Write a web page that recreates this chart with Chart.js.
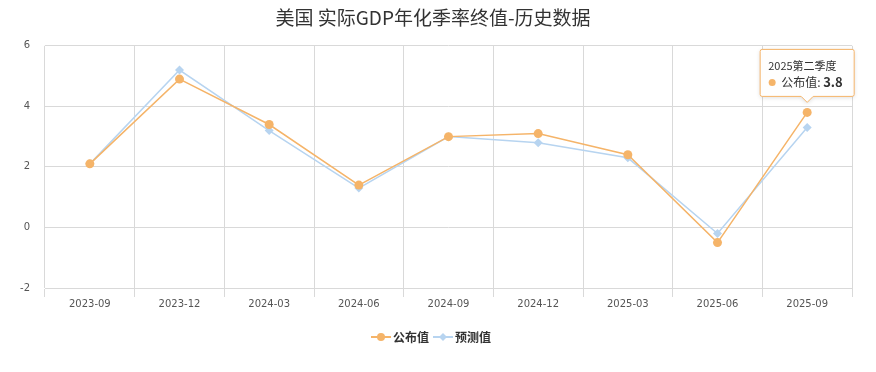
<!DOCTYPE html>
<html>
<head>
<meta charset="utf-8">
<script src="https://cdn.jsdelivr.net/npm/chart.js@4"></script>
<style>
  html, body { margin: 0; padding: 0; background: #fff; }
  #wrap { width: 876px; height: 372px; }
</style>
</head>
<body>
<div id="wrap"><canvas id="myChart" width="876" height="372"></canvas></div>
<script>
// data
var labels = ['2023-09', '2023-12', '2024-03', '2024-06', '2024-09', '2024-12', '2025-03', '2025-06', '2025-09'];
var actual = [2.1, 4.9, 3.4, 1.4, 3.0, 3.1, 2.4, -0.5, 3.8];
var forecast = [2.1, 5.2, 3.2, 1.3, 3.0, 2.8, 2.3, -0.2, 3.3];
var yTicks = [-2, 0, 2, 4, 6];
var tipTitle = '2025第二季度';

var orange = '#f5b469';
var blue = '#b7d4f0';
var fontFam = '"Noto Sans CJK SC", "Noto Sans", sans-serif';
var tickFam = '"DejaVu Sans", sans-serif';

// legend icon: short line with marker
function legendIcon(color, shape) {
    var c = document.createElement('canvas');
    c.width = 22; c.height = 12;
    var g = c.getContext('2d');
    g.strokeStyle = color;
    g.lineWidth = 2;
    g.beginPath(); g.moveTo(1, 6); g.lineTo(21, 6); g.stroke();
    g.fillStyle = color;
    g.beginPath();
    if (shape === 'circle') {
        g.arc(11, 6, 4, 0, Math.PI * 2);
    } else {
        g.moveTo(11, 2); g.lineTo(15, 6); g.lineTo(11, 10); g.lineTo(7, 6); g.closePath();
    }
    g.fill();
    return c;
}

// fixed tooltip on last point, drawn like the reference
var tipPlugin = {
    id: 'fixedTip',
    afterDraw: function (chart) {
        var ctx = chart.ctx;
        var idx = actual.length - 1;
        var pt = chart.getDatasetMeta(0).data[idx];
        var w = 94, h = 47;
        var x = pt.x - w / 2, y = pt.y - 16 - h;
        ctx.save();
        ctx.shadowColor = 'rgba(0,0,0,0.15)';
        ctx.shadowBlur = 4;
        ctx.shadowOffsetY = 1;
        ctx.fillStyle = 'rgba(255,255,255,0.96)';
        ctx.strokeStyle = orange;
        ctx.lineWidth = 1;
        ctx.beginPath();
        ctx.moveTo(x + 2, y);
        ctx.lineTo(x + w - 2, y);
        ctx.quadraticCurveTo(x + w, y, x + w, y + 2);
        ctx.lineTo(x + w, y + h - 2);
        ctx.quadraticCurveTo(x + w, y + h, x + w - 2, y + h);
        ctx.lineTo(pt.x + 6, y + h);
        ctx.lineTo(pt.x, y + h + 6);
        ctx.lineTo(pt.x - 6, y + h);
        ctx.lineTo(x + 2, y + h);
        ctx.quadraticCurveTo(x, y + h, x, y + h - 2);
        ctx.lineTo(x, y + 2);
        ctx.quadraticCurveTo(x, y, x + 2, y);
        ctx.closePath();
        ctx.fill();
        ctx.shadowColor = 'transparent';
        ctx.stroke();

        ctx.textBaseline = 'middle';
        ctx.fillStyle = '#333';
        ctx.font = '11px ' + fontFam;
        ctx.fillText(tipTitle, x + 8, y + 16);
        ctx.fillStyle = orange;
        ctx.beginPath(); ctx.arc(x + 12, y + 33, 3.5, 0, Math.PI * 2); ctx.fill();
        ctx.fillStyle = '#333';
        ctx.font = '12px ' + fontFam;
        var lab = '公布值: ';
        ctx.fillText(lab, x + 21, y + 33);
        var lw = ctx.measureText(lab).width;
        ctx.font = 'bold 13px ' + fontFam;
        ctx.fillText(String(actual[idx]), x + 21 + lw, y + 33);
        ctx.restore();
    }
};

const ctx = document.getElementById('myChart').getContext('2d');
const myChart = new Chart(ctx, {
    type: 'line',
    data: {
        labels: labels,
        datasets: [{
            label: '公布值',
            data: actual,
            borderColor: orange,
            backgroundColor: orange,
            borderWidth: 1.5,
            pointRadius: 4.5,
            pointStyle: 'circle',
            pointBorderWidth: 0,
            tension: 0
        }, {
            label: '预测值',
            data: forecast,
            borderColor: blue,
            backgroundColor: blue,
            borderWidth: 1.5,
            pointRadius: 4.5,
            pointStyle: 'rectRot',
            pointBorderWidth: 0,
            tension: 0
        }]
    },
    options: {
        responsive: false,
        animation: false,
        layout: { padding: { left: 14, right: 24, top: 6, bottom: 19 } },
        plugins: {
            title: {
                display: true,
                text: '美国 实际GDP年化季率终值-历史数据',
                color: '#333',
                font: { family: fontFam, size: 19, weight: 'normal' },
                padding: { top: 0, bottom: 17 }
            },
            legend: {
                position: 'bottom',
                labels: {
                    usePointStyle: true,
                    color: '#333',
                    font: { family: fontFam, size: 12, weight: 'bold' },
                    padding: 8,
                    generateLabels: function (chart) {
                        return chart.data.datasets.map(function (ds, i) {
                            return {
                                text: ds.label,
                                pointStyle: legendIcon(ds.borderColor, i === 0 ? 'circle' : 'diamond'),
                                fontColor: '#333',
                                datasetIndex: i,
                                hidden: false
                            };
                        });
                    }
                }
            },
            tooltip: { enabled: false }
        },
        scales: {
            x: {
                offset: true,
                afterFit: function (scale) { scale.height = 35; },
                grid: { color: '#d9d9d9', offset: true, tickLength: 9, drawTicks: true },
                border: { color: '#d9d9d9' },
                ticks: { color: '#555', font: { family: tickFam, size: 10 }, padding: 1, maxRotation: 0 }
            },
            y: {
                min: -2,
                max: 6,
                afterBuildTicks: function (scale) {
                    scale.ticks = yTicks.map(function (v) { return { value: v }; });
                },
                afterFit: function (scale) { scale.width = 31; },
                grid: { color: '#d9d9d9', drawTicks: false },
                border: { display: false },
                ticks: { color: '#555', font: { family: tickFam, size: 10 }, padding: 15 }
            }
        }
    },
    plugins: [tipPlugin]
});
</script>
</body>
</html>
